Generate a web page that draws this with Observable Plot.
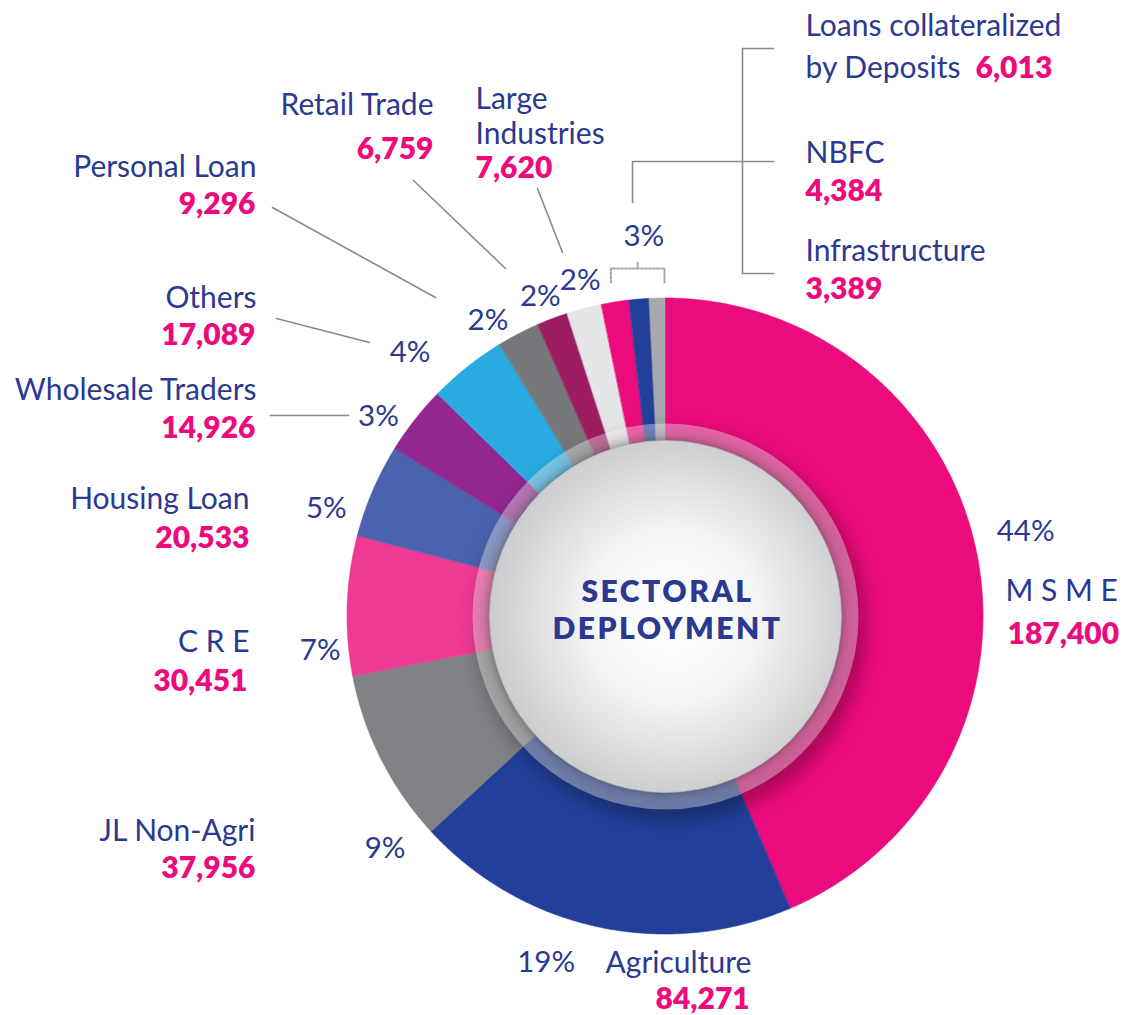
<!DOCTYPE html>
<html>
<head>
<meta charset="utf-8">
<script src="https://cdn.jsdelivr.net/npm/d3@7"></script>
<script src="https://cdn.jsdelivr.net/npm/@observablehq/plot@0.6"></script>
<style>
  html, body { margin: 0; padding: 0; background: #ffffff; }
  #chart svg { display: block; }
</style>
</head>
<body>
<div id="chart"></div>
<script>
// ---------------- DATA ----------------
const sectors = [
  "M S M E", "Agriculture", "JL Non-Agri", "C R E", "Housing Loan",
  "Wholesale Traders", "Others", "Personal Loan", "Retail Trade",
  "Large\nIndustries", "Loans collateralized\nby Deposits", "NBFC", "Infrastructure"
];
const amounts = [187400, 84271, 37956, 30451, 20533, 14926, 17089, 9296, 6759, 7620, 6013, 4384, 3389];
const sliceColors = [
  "#ec0b7c", "#22409a", "#808285", "#f03a94", "#4b63ae",
  "#92278f", "#29aae1", "#77787b", "#9e1c62", "#e4e5e7",
  "#ec0b7c", "#22409a", "#a7a9ac"
];
// printed share labels (the last one covers the three small slices together)
const shareGroups = [[0], [1], [2], [3], [4], [5], [6], [7], [8], [9], [10, 11, 12]];
const shareText = ["44%", "19%", "9%", "7%", "5%", "3%", "4%", "2%", "2%", "2%", "3%"];
const centerTitle = ["SECTORAL", "DEPLOYMENT"];

// ---------------- LAYOUT (page pixels) ----------------
const CX = 665, CY = 616;
const R_OUT = 318, R_IN = 150, R_RING_IN = 176, R_RING_OUT = 193;
const W = 1123, H = 1015;
const NAVY = "#2b3990", PINK = "#ec0b7c";
const FONT = "Lato, 'Open Sans', sans-serif";

// share label placement: angular nudge (deg) from slice middle, radius (px)
const shareNudge = [-1.7, 6.9, -12.9, -7.6, -5.6, -3.2, -5.6, -3.5, -0.6, 0.5, 2.5];
const shareRadius = [370, 366, 364, 347, 356, 350, 367, 345, 344, 347, 381];

// name/value label placement: [x, baseline y, anchor, line gap, valueX, valueBaseline, valueAnchor]
const nameLayout = [
  [1005, 600, "start", 0, 1007, 643, "start"],
  [605, 972, "start", 0, 655, 1008, "start"],
  [255, 840, "end", 0, 255, 877, "end"],
  [249, 651, "end", 0, 247, 690, "end"],
  [249, 508, "end", 0, 249, 547, "end"],
  [256, 399, "end", 0, 255, 437, "end"],
  [256, 307, "end", 0, 255, 344, "end"],
  [256, 176, "end", 0, 255, 213, "end"],
  [433, 114, "end", 0, 433, 158, "end"],
  [475, 108, "start", 35, 475, 177, "start"],
  [805, 35, "start", 42, 975, 77, "start"],
  [805, 162, "start", 0, 805, 200, "start"],
  [805, 260, "start", 0, 805, 298, "start"]
];
// leader polylines (page pixels)
const leaderLayout = [
  [[272, 207], [435, 297]],
  [[413, 180], [505, 268]],
  [[537, 188], [562, 252]],
  [[276, 318], [369, 342]],
  [[270, 415], [348, 415]],
  [[632, 202], [632, 161], [773, 161]],
  [[773, 48], [742, 48], [742, 273], [773, 273]]
];

// ---------------- BUILD ----------------
const deg = Math.PI / 180;
const data = sectors.map((name, i) => ({name, amount: amounts[i], color: sliceColors[i]}));
const arcs = d3.pie().sort(null).value(d => d.amount)(data);

const slicePts = [];
for (const a of arcs) {
  const n = Math.max(2, Math.ceil((a.endAngle - a.startAngle) / (0.25 * deg)));
  for (let k = 0; k <= n; k++) {
    const t = a.startAngle + (a.endAngle - a.startAngle) * k / n;
    slicePts.push({
      name: a.data.name, color: a.data.color,
      x1: R_OUT * Math.sin(t), y1: -R_OUT * Math.cos(t),
      x2: R_IN * Math.sin(t), y2: -R_IN * Math.cos(t)
    });
  }
}

const shareRows = shareGroups.map((g, i) => {
  const a0 = arcs[g[0]].startAngle, a1 = arcs[g[g.length - 1]].endAngle;
  const t = (a0 + a1) / 2 + shareNudge[i] * deg;
  return {text: shareText[i], x: shareRadius[i] * Math.sin(t), y: -shareRadius[i] * Math.cos(t)};
});

const nameRows = [], valueRows = [];
const fmt = d3.format(",");
sectors.forEach((s, i) => {
  const [x, y, anchor, gap, vx, vy, va] = nameLayout[i];
  s.split("\n").forEach((line, j) => nameRows.push({text: line, x: x - CX, y: y + j * gap - CY, anchor}));
  valueRows.push({text: fmt(amounts[i]), x: vx - CX, y: vy - CY, anchor: va});
});

const leaderRows = [];
leaderLayout.forEach((pl, i) => pl.forEach(([x, y]) => leaderRows.push({id: i, x: x - CX, y: y - CY})));

// dotted bracket over the three smallest slices
const g0 = arcs[10].startAngle, g1 = arcs[12].endAngle;
const bx0 = R_OUT * Math.sin(g0) + 9, bx1 = R_OUT * Math.sin(g1) - 1;
const by = -(R_OUT + 30), byTick = -(R_OUT + 16);
const bmid = (bx0 + bx1) / 2;
const bracketRows = [
  {id: 0, x: bx0, y: byTick}, {id: 0, x: bx0, y: by}, {id: 0, x: bx1, y: by}, {id: 0, x: bx1, y: byTick},
  {id: 1, x: bmid, y: by}, {id: 1, x: bmid, y: by - 8}
];

function textMarks(rows, opts) {
  return ["start", "middle", "end"].map(anchor =>
    Plot.text(rows.filter(r => r.anchor === anchor), {
      x: "x", y: "y", text: "text", textAnchor: anchor, lineAnchor: "bottom",
      fontFamily: FONT, ...opts
    })
  );
}

const svg = Plot.plot({
  width: W, height: H,
  marginTop: 0, marginRight: 0, marginBottom: 0, marginLeft: 0,
  x: {domain: [-CX, W - CX], range: [0, W], axis: null},
  y: {domain: [-CY, H - CY], range: [0, H], axis: null},
  color: {type: "identity"},
  style: {background: "#ffffff", overflow: "visible"},
  marks: [
    Plot.area(slicePts, {x1: "x1", y1: "y1", x2: "x2", y2: "y2", z: "name", fill: "color", stroke: "color", strokeWidth: 0.6}),
    Plot.dot([0], {x: () => 0, y: () => 0, r: R_RING_OUT + 2, fill: "#000", fillOpacity: 0.28, dx: 6, dy: 9, imageFilter: "blur(9px)"}),
    Plot.dot([0], {x: () => 0, y: () => 0, r: (R_RING_IN + R_RING_OUT) / 2, fill: "none", stroke: "#ffffff", strokeWidth: R_RING_OUT - R_RING_IN, strokeOpacity: 0.36}),
    Plot.dot([0], {x: () => 0, y: () => 0, r: R_RING_IN, fill: "url(#centerGrad)", stroke: "#b9babd", strokeWidth: 0.8, imageFilter: "drop-shadow(0px 0px 4px rgba(0,0,0,0.35))"}),
    Plot.text(centerTitle, {x: () => 2, y: (d, i) => -15 + i * 37, text: d => d, textAnchor: "middle", lineAnchor: "bottom",
      fontFamily: FONT, fontWeight: 800, fontSize: 30, fill: NAVY}),
    Plot.line(leaderRows, {x: "x", y: "y", z: "id", stroke: "#8a8a8a", strokeWidth: 1.6}),
    Plot.line(bracketRows, {x: "x", y: "y", z: "id", stroke: "#aaaaaa", strokeWidth: 2.2, strokeDasharray: "2,2"}),
    Plot.text(shareRows, {x: "x", y: "y", text: "text", textAnchor: "middle", fontFamily: FONT, fontSize: 29.5, fill: NAVY}),
    ...textMarks(nameRows, {fontSize: 30, fill: NAVY}),
    ...textMarks(valueRows, {fontSize: 30, fontWeight: 800, fill: PINK})
  ]
});

// gradient for the centre disc
const defs = d3.select(svg).insert("defs", ":first-child");
const rg = defs.append("radialGradient").attr("id", "centerGrad")
  .attr("cx", "52%").attr("cy", "50%").attr("r", "55%").attr("fx", "52%").attr("fy", "50%");
rg.append("stop").attr("offset", "0%").attr("stop-color", "#ffffff");
rg.append("stop").attr("offset", "45%").attr("stop-color", "#f4f4f5");
rg.append("stop").attr("offset", "100%").attr("stop-color", "#c6c7c9");

// wider tracking for the centre title
d3.select(svg).selectAll("text")
  .filter(function() { return centerTitle.includes(this.textContent); })
  .style("letter-spacing", "2.5px");

document.getElementById("chart").appendChild(svg);
</script>
</body>
</html>
